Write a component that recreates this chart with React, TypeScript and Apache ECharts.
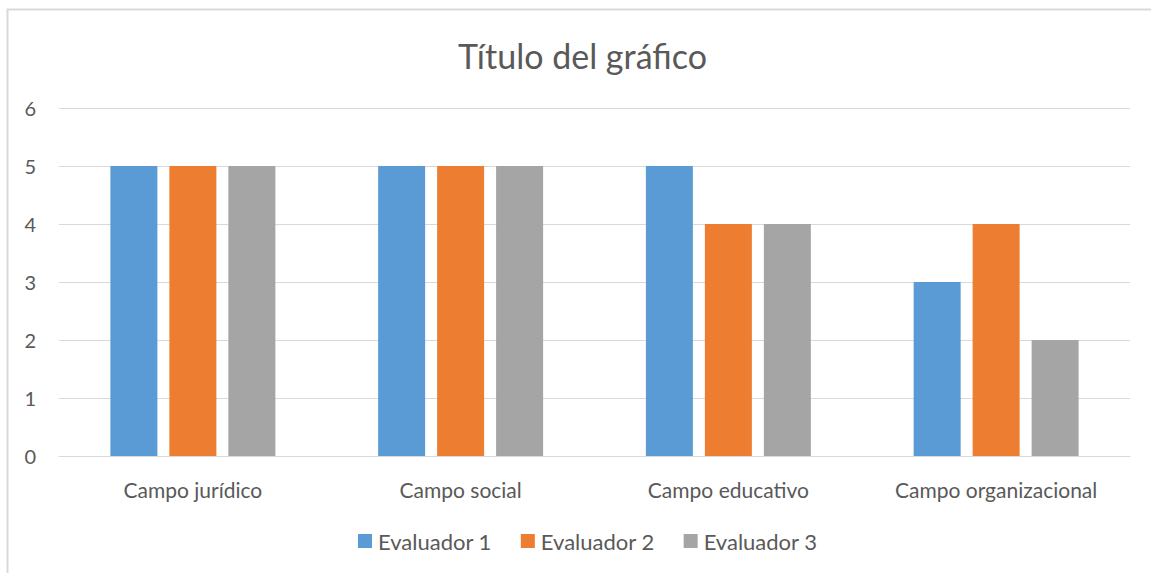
import React, { useEffect, useRef } from "react";
import * as echarts from "echarts";

const categories = ["Campo jurídico", "Campo social", "Campo educativo", "Campo organizacional"];
const evaluador1 = [5, 5, 5, 3];
const evaluador2 = [5, 5, 4, 4];
const evaluador3 = [5, 5, 4, 2];
const seriesNames = ["Evaluador 1", "Evaluador 2", "Evaluador 3"];
const colors = ["#5b9bd5", "#ed7d31", "#a5a5a5"];

const FONT = "Lato";

export default function App() {
  const ref = useRef<HTMLDivElement>(null);
  useEffect(() => {
    if (!ref.current) return;
    const chart = echarts.init(ref.current, undefined, { renderer: "svg" });
    const data = [evaluador1, evaluador2, evaluador3];
    chart.setOption({
      animation: false,
      backgroundColor: "#ffffff",
      title: {
        text: "Título del gráfico",
        left: 458,
        top: 38,
        padding: 0,
        textStyle: { fontFamily: FONT, fontSize: 34, fontWeight: "normal", color: "#595959" },
      },
      graphic: [
        {
          type: "rect",
          shape: { x: 7.5, y: 9.5, width: 1160, height: 580 },
          style: { fill: "none", stroke: "#d9d9d9", lineWidth: 2 },
          silent: true,
        },
      ],
      legend: {
        data: seriesNames,
        bottom: 16,
        left: 353,
        itemWidth: 14,
        itemHeight: 14,
        itemGap: 29,
        icon: "rect",
        textStyle: { fontFamily: FONT, fontSize: 22, color: "#595959", padding: [0, 0, 0, 1] },
      },
      grid: { left: 59, right: 21, top: 108, bottom: 117, containLabel: false },
      xAxis: {
        type: "category",
        data: categories,
        axisLine: { lineStyle: { color: "#d9d9d9", width: 1 } },
        axisTick: { show: false },
        axisLabel: { fontFamily: FONT, fontSize: 21, color: "#595959", margin: 23 },
      },
      yAxis: {
        type: "value",
        min: 0,
        max: 6,
        interval: 1,
        axisLine: { show: false },
        axisTick: { show: false },
        splitLine: { lineStyle: { color: "#d9d9d9", width: 1 } },
        axisLabel: { fontFamily: FONT, fontSize: 20, color: "#595959", margin: 23 },
      },
      series: seriesNames.map((name, i) => ({
        name,
        type: "bar",
        data: data[i],
        barWidth: 47,
        barGap: "25.5%",
        itemStyle: { color: colors[i] },
      })),
    });
    return () => chart.dispose();
  }, []);
  return <div ref={ref} style={{ position: "absolute", left: 0, top: 0, width: 1151, height: 573 }} />;
}
